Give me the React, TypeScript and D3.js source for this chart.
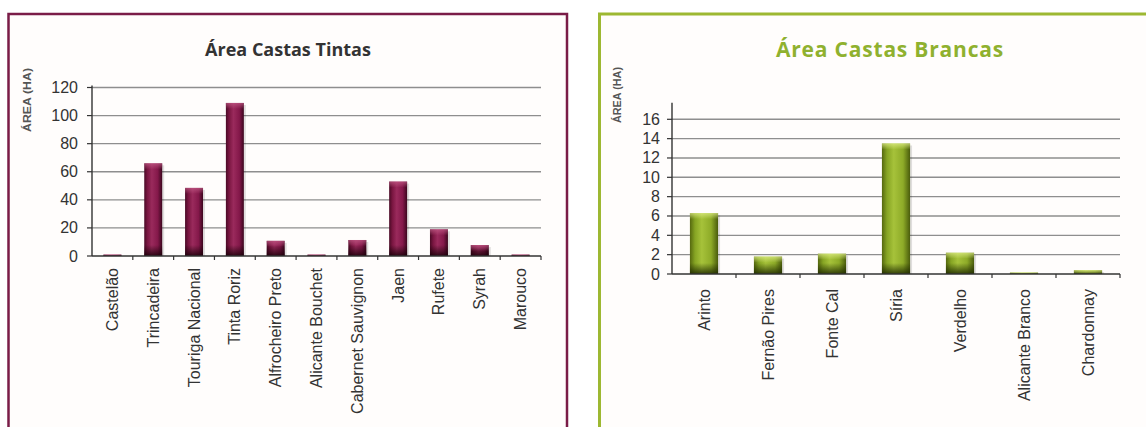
import React from "react";
import * as d3 from "d3";

const redCategories = ["Castelão", "Trincadeira", "Touriga Nacional", "Tinta Roriz", "Alfrocheiro Preto", "Alicante Bouchet", "Cabernet Sauvignon", "Jaen", "Rufete", "Syrah", "Marouco"];
const redValues = [1, 66, 48.5, 109, 10.8, 1, 11.4, 53, 19, 7.8, 1];
const redTicks = [0, 20, 40, 60, 80, 100, 120];

const whiteCategories = ["Arinto", "Fernão Pires", "Fonte Cal", "Síria", "Verdelho", "Alicante Branco", "Chardonnay"];
const whiteValues = [6.3, 1.8, 2.1, 13.5, 2.2, 0.15, 0.4];
const whiteTicks = [0, 2, 4, 6, 8, 10, 12, 14, 16];

type PanelProps = {
  id: string;
  frame: { x: number; y: number; w: number; h: number; stroke: string; sw: number };
  title: string;
  titleColor: string;
  titleSize: number;
  titleX: number;
  titleY: number;
  titleSpacing: number;
  ylabelX: number;
  ylabelY: number;
  ylabelLen: number;
  ylabelSize: number;
  plotLeft: number;
  plotRight: number;
  yBottom: number;
  yTop: number;
  tickMax: number;
  axisTopValue: number;
  categories: string[];
  values: number[];
  ticks: number[];
  labelTop: number;
  tickGap: number;
  colors: string[];
  baseDark: string;
  topLight: string;
};

function Panel(p: PanelProps) {
  const x = d3.scaleBand<string>().domain(p.categories).range([p.plotLeft, p.plotRight]).paddingInner(0.56).paddingOuter(0.28);
  const xb = d3.scaleBand<string>().domain(p.categories).range([p.plotLeft, p.plotRight]);
  const y = d3.scaleLinear().domain([0, p.tickMax]).range([p.yBottom, p.yTop]);
  const bw = x.bandwidth();
  return (
    <g>
      <defs>
        <linearGradient id={p.id + "-h"} x1="0" x2="1" y1="0" y2="0">
          <stop offset="0%" stopColor={p.colors[0]} />
          <stop offset="18%" stopColor={p.colors[1]} />
          <stop offset="42%" stopColor={p.colors[2]} />
          <stop offset="75%" stopColor={p.colors[3]} />
          <stop offset="100%" stopColor={p.colors[4]} />
        </linearGradient>
        <linearGradient id={p.id + "-b"} x1="0" x2="0" y1="0" y2="1">
          <stop offset="0%" stopColor={p.baseDark} stopOpacity={0} />
          <stop offset="100%" stopColor={p.baseDark} stopOpacity={0.85} />
        </linearGradient>
        <linearGradient id={p.id + "-t"} x1="0" x2="0" y1="0" y2="1">
          <stop offset="0%" stopColor={p.topLight} stopOpacity={0.7} />
          <stop offset="100%" stopColor={p.topLight} stopOpacity={0} />
        </linearGradient>
      </defs>
      <rect x={p.frame.x} y={p.frame.y} width={p.frame.w} height={p.frame.h} fill="#fffdfc" stroke={p.frame.stroke} strokeWidth={p.frame.sw} />
      <text x={p.titleX} y={p.titleY} textAnchor="middle" dominantBaseline="central" fontFamily="'Open Sans', sans-serif" fontWeight={700} fontSize={p.titleSize} fill={p.titleColor} letterSpacing={p.titleSpacing}>{p.title}</text>
      <text transform={`translate(${p.ylabelX},${p.ylabelY}) rotate(-90)`} textAnchor="middle" dominantBaseline="central" fontFamily="'Liberation Sans', Arial, sans-serif" fontWeight={700} fontSize={p.ylabelSize} fill="#555" textLength={p.ylabelLen} lengthAdjust="spacingAndGlyphs">ÁREA (HA)</text>
      {p.ticks.map((t) => (
        <g key={t}>
          {t > 0 && <line x1={p.plotLeft} x2={p.plotRight} y1={y(t)} y2={y(t)} stroke="#8e8e8e" strokeWidth={1.4} />}
          <line x1={p.plotLeft - 5} x2={p.plotLeft} y1={y(t)} y2={y(t)} stroke="#333" strokeWidth={1.2} />
          <text x={p.plotLeft - p.tickGap} y={y(t)} textAnchor="end" dominantBaseline="central" fontFamily="'Liberation Sans', Arial, sans-serif" fontSize={16} fill="#333">{t}</text>
        </g>
      ))}
      {p.categories.map((c, i) => {
        const bx = x(c) as number;
        const top = y(p.values[i]);
        const h = p.yBottom - top;
        const baseH = Math.min(h, 11);
        const topH = Math.min(h, 6);
        return (
          <g key={c}>
            <rect x={bx + 2} y={top + 2} width={bw} height={h - 2 > 0 ? h - 2 : 0} fill="#000" opacity={0.12} />
            <rect x={bx} y={top} width={bw} height={h} fill={`url(#${p.id}-h)`} />
            <rect x={bx} y={p.yBottom - baseH} width={bw} height={baseH} fill={`url(#${p.id}-b)`} />
            <rect x={bx} y={top} width={bw} height={topH} fill={`url(#${p.id}-t)`} />
          </g>
        );
      })}
      <line x1={p.plotLeft} x2={p.plotLeft} y1={y(p.axisTopValue)} y2={p.yBottom} stroke="#333" strokeWidth={1.4} />
      <line x1={p.plotLeft} x2={p.plotRight} y1={p.yBottom} y2={p.yBottom} stroke="#333" strokeWidth={1.4} />
      {p.categories.map((c) => (
        <line key={"t" + c} x1={(xb(c) as number) + xb.bandwidth()} x2={(xb(c) as number) + xb.bandwidth()} y1={p.yBottom} y2={p.yBottom + 4} stroke="#333" strokeWidth={1.2} />
      ))}
      {p.categories.map((c) => (
        <text key={"l" + c} transform={`translate(${(x(c) as number) + bw / 2},${p.labelTop}) rotate(-90)`} textAnchor="end" dominantBaseline="central" fontFamily="'Liberation Sans', Arial, sans-serif" fontSize={16} fill="#333">{c}</text>
      ))}
    </g>
  );
}

export default function App() {
  return (
    <svg width={1146} height={427} style={{ position: "absolute", left: 0, top: 0, background: "#fff" }}>
      <Panel
        id="red"
        frame={{ x: 8.5, y: 14, w: 558.5, h: 440, stroke: "#7a1c47", sw: 2.5 }}
        title="Área Castas Tintas"
        titleColor="#333"
        titleSize={18}
        titleX={288}
        titleY={49}
        titleSpacing={0}
        ylabelX={27}
        ylabelY={100}
        ylabelLen={64}
        ylabelSize={11}
        plotLeft={92}
        plotRight={541}
        yBottom={256}
        yTop={87.5}
        tickMax={120}
        axisTopValue={121.5}
        categories={redCategories}
        values={redValues}
        ticks={redTicks}
        labelTop={268}
        tickGap={14}
        colors={["#4a0a26", "#7a1641", "#9a2a5c", "#84184a", "#3c061e"]}
        baseDark="#1a0008"
        topLight="#c45c88"
      />
      <Panel
        id="white"
        frame={{ x: 599.5, y: 14, w: 590, h: 440, stroke: "#9db832", sw: 3 }}
        title="Área Castas Brancas"
        titleColor="#8fb12f"
        titleSize={21}
        titleX={890}
        titleY={49}
        titleSpacing={0.8}
        ylabelX={617}
        ylabelY={95}
        ylabelLen={56}
        ylabelSize={10}
        plotLeft={672}
        plotRight={1120}
        yBottom={274}
        yTop={119.3}
        tickMax={16}
        axisTopValue={17.7}
        categories={whiteCategories}
        values={whiteValues}
        ticks={whiteTicks}
        labelTop={289}
        tickGap={12}
        colors={["#55680f", "#86a423", "#a6c23a", "#8eab28", "#4a5c0c"]}
        baseDark="#1e2800"
        topLight="#e2f08a"
      />
    </svg>
  );
}
